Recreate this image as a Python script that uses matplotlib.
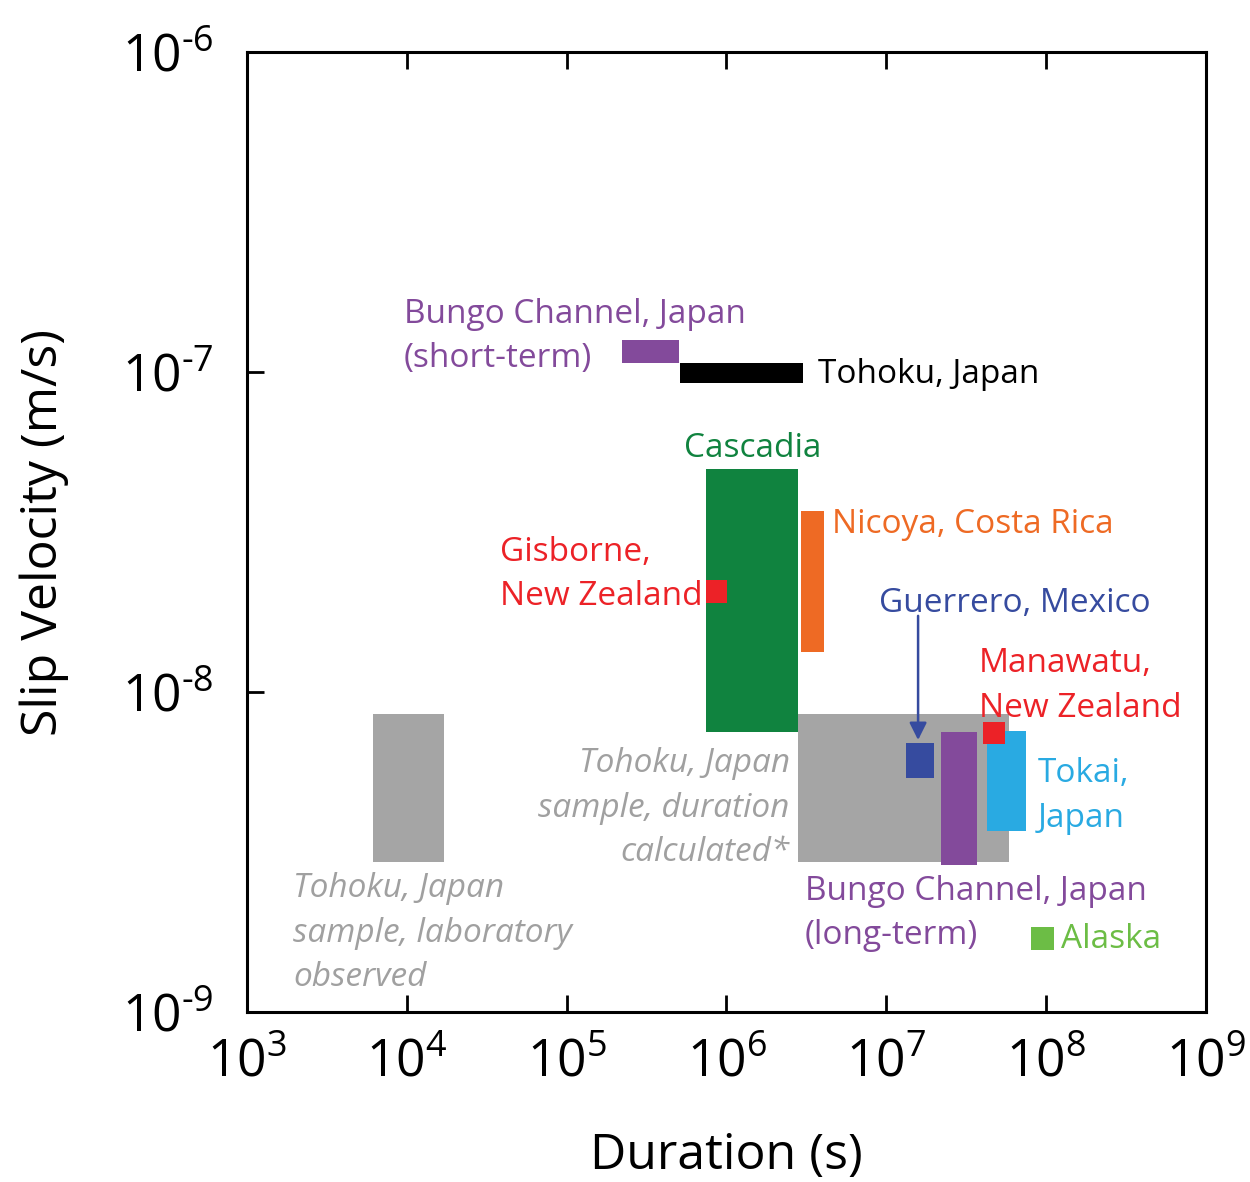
import matplotlib
matplotlib.use("Agg")
import matplotlib.pyplot as plt
from matplotlib.patches import Rectangle

plt.rcParams["mathtext.fontset"] = "custom"
plt.rcParams["mathtext.rm"] = "Open Sans"
plt.rcParams["mathtext.it"] = "Open Sans"
plt.rcParams["font.family"] = ["Open Sans", "DejaVu Sans"]

# slow slip regions: duration range (s) and slip velocity range (m/s)
dur_lo = [6.14e3, 2.80e6, 7.45e5, 2.92e6, 7.45e5, 2.22e5, 5.12e5, 1.33e7, 2.20e7, 4.27e7, 4.03e7, 8.04e7]
dur_hi = [1.71e4, 5.86e7, 2.80e6, 4.07e6, 1.01e6, 5.05e5, 3.01e6, 1.99e7, 3.69e7, 7.48e7, 5.53e7, 1.12e8]
vel_lo = [2.94e-9, 2.94e-9, 7.5e-9, 1.33e-8, 1.90e-8, 1.07e-7, 9.25e-8, 5.38e-9, 2.88e-9, 3.68e-9, 6.87e-9, 1.56e-9]
vel_hi = [8.53e-9, 8.53e-9, 4.98e-8, 3.68e-8, 2.24e-8, 1.26e-7, 1.07e-7, 6.93e-9, 7.5e-9, 7.55e-9, 8.05e-9, 1.85e-9]
colors = ["#a5a5a5", "#a5a5a5", "#10833f", "#ee6a24", "#ec2227", "#834a9b",
          "#000000", "#364b9f", "#834a9b", "#29aae2", "#ec2227", "#6cbd45"]

# one entry per label line: text, x, baseline y, colour, alignment, italic
labels = [
    ("Bungo Channel, Japan", 9.6e3, 1.42e-7, "#834a9b", "left", False),
    ("(short-term)", 9.6e3, 1.04e-7, "#834a9b", "left", False),
    ("Tohoku, Japan", 3.74e6, 9.25e-8, "#000000", "left", False),
    ("Cascadia", 5.42e5, 5.42e-8, "#10833f", "left", False),
    ("Nicoya, Costa Rica", 4.57e6, 3.14e-8, "#ee6a24", "left", False),
    ("Gisborne,", 3.83e4, 2.57e-8, "#ec2227", "left", False),
    ("New Zealand", 3.83e4, 1.87e-8, "#ec2227", "left", False),
    ("Guerrero, Mexico", 9.0e6, 1.78e-8, "#364b9f", "left", False),
    ("Manawatu,", 3.80e7, 1.155e-8, "#ec2227", "left", False),
    ("New Zealand", 3.80e7, 8.35e-9, "#ec2227", "left", False),
    ("Tokai,", 8.89e7, 5.24e-9, "#29aae2", "left", False),
    ("Japan", 8.89e7, 3.79e-9, "#29aae2", "left", False),
    ("Tohoku, Japan", 2.49e6, 5.62e-9, "#a0a0a0", "right", True),
    ("sample, duration", 2.49e6, 4.07e-9, "#a0a0a0", "right", True),
    ("calculated*", 2.49e6, 2.96e-9, "#a0a0a0", "right", True),
    ("Tohoku, Japan", 1.94e3, 2.29e-9, "#a0a0a0", "left", True),
    ("sample, laboratory", 1.94e3, 1.65e-9, "#a0a0a0", "left", True),
    ("observed", 1.94e3, 1.21e-9, "#a0a0a0", "left", True),
    ("Bungo Channel, Japan", 3.10e6, 2.24e-9, "#834a9b", "left", False),
    ("(long-term)", 3.10e6, 1.63e-9, "#834a9b", "left", False),
    ("Alaska", 1.24e8, 1.585e-9, "#6cbd45", "left", False),
]

fig = plt.figure(figsize=(12.5, 11.82), dpi=100)
ax = fig.add_axes([0.1976, 0.1438, 0.7672, 0.8122])
ax.set_xscale("log")
ax.set_yscale("log")
ax.set_xlim(1e3, 1e9)
ax.set_ylim(1e-9, 1e-6)

for x0, x1, y0, y1, c in zip(dur_lo, dur_hi, vel_lo, vel_hi, colors):
    ax.add_patch(Rectangle((x0, y0), x1 - x0, y1 - y0, facecolor=c, edgecolor="none"))

for txt, x, y, c, ha, it in labels:
    ax.text(x, y, txt, color=c, ha=ha, va="baseline", fontsize=24,
            style="italic" if it else "normal")

# Guerrero pointer
ax.annotate("", xy=(1.58e7, 7.08e-9), xytext=(1.58e7, 1.73e-8),
            arrowprops=dict(arrowstyle="-|>", color="#364b9f", lw=1.8,
                            mutation_scale=26, shrinkA=0, shrinkB=0))

xt = [1e3, 1e4, 1e5, 1e6, 1e7, 1e8, 1e9]
yt = [1e-9, 1e-8, 1e-7, 1e-6]
ax.set_xticks(xt)
ax.set_xticklabels([r"$10^{%d}$" % e for e in range(3, 10)])
ax.set_yticks(yt)
ax.set_yticklabels([r"$10^{\text{%d}}$" % e for e in range(-9, -5)])
ax.minorticks_off()
ax.tick_params(which="major", direction="in", length=12, width=2,
               top=True, right=False, labelsize=37)
ax.tick_params(axis="x", pad=18)
ax.tick_params(axis="y", pad=24)
for s in ax.spines.values():
    s.set_linewidth(2.2)

ax.set_xlabel("Duration (s)", fontsize=36, labelpad=31)
ax.set_ylabel("Slip Velocity (m/s)", fontsize=36, labelpad=38)

fig.savefig("out.png", dpi=100)
